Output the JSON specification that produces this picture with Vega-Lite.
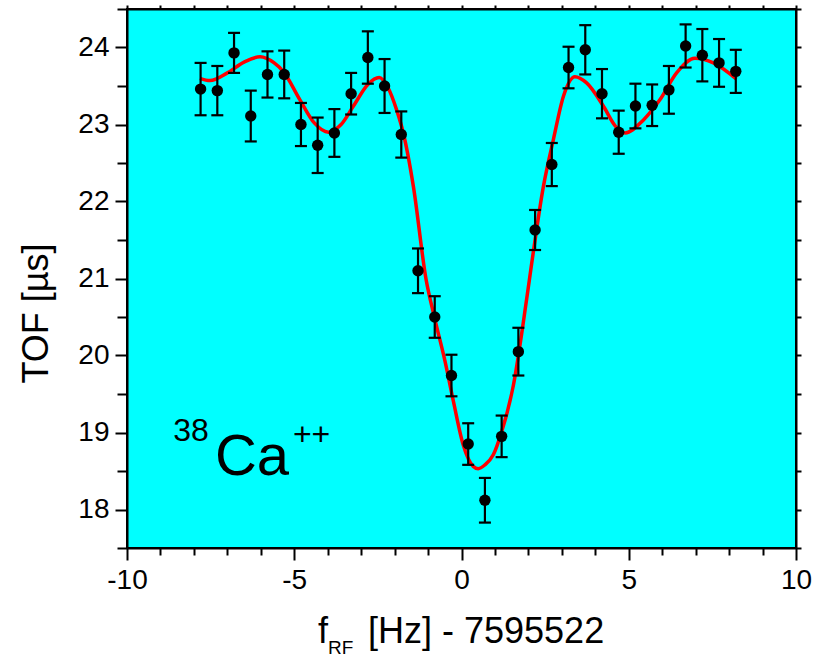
{
  "$schema": "https://vega.github.io/schema/vega-lite/v6.json",
  "width": 669,
  "height": 539,
  "autosize": {"type": "none"},
  "padding": {"left": 127, "top": 9, "right": 18, "bottom": 112},
  "background": "white",
  "config": {
    "view": {"fill": "#00FFFF", "stroke": "black", "strokeWidth": 2},
    "font": "Liberation Sans",
    "axis": {"grid": false, "domainColor": "black", "domainWidth": 2, "tickColor": "black", "tickWidth": 2, "labelColor": "black", "labelFont": "Liberation Sans", "titleFont": "Liberation Sans", "titleColor": "black", "titleFontWeight": "normal"}
  },
  "datasets": {
    "pts": [
      {"f": -7.8, "tof": 23.46, "err": 0.34},
      {"f": -7.3, "tof": 23.44, "err": 0.32},
      {"f": -6.8, "tof": 23.93, "err": 0.26},
      {"f": -6.3, "tof": 23.11, "err": 0.33},
      {"f": -5.8, "tof": 23.65, "err": 0.30},
      {"f": -5.3, "tof": 23.65, "err": 0.31},
      {"f": -4.8, "tof": 23.00, "err": 0.28},
      {"f": -4.3, "tof": 22.73, "err": 0.36},
      {"f": -3.8, "tof": 22.89, "err": 0.31},
      {"f": -3.3, "tof": 23.40, "err": 0.27},
      {"f": -2.8, "tof": 23.87, "err": 0.34},
      {"f": -2.3, "tof": 23.50, "err": 0.35},
      {"f": -1.8, "tof": 22.87, "err": 0.30},
      {"f": -1.3, "tof": 21.10, "err": 0.29},
      {"f": -0.8, "tof": 20.50, "err": 0.27},
      {"f": -0.3, "tof": 19.74, "err": 0.27},
      {"f": 0.2, "tof": 18.85, "err": 0.27},
      {"f": 0.7, "tof": 18.12, "err": 0.29},
      {"f": 1.2, "tof": 18.95, "err": 0.27},
      {"f": 1.7, "tof": 20.05, "err": 0.31},
      {"f": 2.2, "tof": 21.63, "err": 0.26},
      {"f": 2.7, "tof": 22.48, "err": 0.28},
      {"f": 3.2, "tof": 23.74, "err": 0.27},
      {"f": 3.7, "tof": 23.97, "err": 0.32},
      {"f": 4.2, "tof": 23.40, "err": 0.32},
      {"f": 4.7, "tof": 22.90, "err": 0.28},
      {"f": 5.2, "tof": 23.24, "err": 0.29},
      {"f": 5.7, "tof": 23.25, "err": 0.27},
      {"f": 6.2, "tof": 23.45, "err": 0.31},
      {"f": 6.7, "tof": 24.02, "err": 0.28},
      {"f": 7.2, "tof": 23.90, "err": 0.34},
      {"f": 7.7, "tof": 23.80, "err": 0.31},
      {"f": 8.2, "tof": 23.69, "err": 0.28}
    ],
    "fit": [
      {"f": -7.82, "tof": 23.60},
      {"f": -7.52, "tof": 23.57},
      {"f": -7.0, "tof": 23.67},
      {"f": -6.5, "tof": 23.81},
      {"f": -6.02, "tof": 23.88},
      {"f": -5.6, "tof": 23.80},
      {"f": -5.33, "tof": 23.69},
      {"f": -4.83, "tof": 23.32},
      {"f": -4.4, "tof": 23.02},
      {"f": -3.98, "tof": 22.90},
      {"f": -3.6, "tof": 23.00},
      {"f": -3.23, "tof": 23.24},
      {"f": -2.8, "tof": 23.52},
      {"f": -2.46, "tof": 23.61},
      {"f": -2.2, "tof": 23.48},
      {"f": -1.94, "tof": 23.19},
      {"f": -1.74, "tof": 22.89},
      {"f": -1.44, "tof": 22.20},
      {"f": -1.06, "tof": 20.99},
      {"f": -0.8, "tof": 20.48},
      {"f": -0.49, "tof": 19.92},
      {"f": -0.24, "tof": 19.40},
      {"f": 0.05, "tof": 18.84},
      {"f": 0.35, "tof": 18.56},
      {"f": 0.5, "tof": 18.53},
      {"f": 0.7, "tof": 18.58},
      {"f": 0.95, "tof": 18.71},
      {"f": 1.2, "tof": 19.01},
      {"f": 1.55, "tof": 19.61},
      {"f": 1.95, "tof": 20.74},
      {"f": 2.1, "tof": 21.2},
      {"f": 2.45, "tof": 22.20},
      {"f": 2.75, "tof": 22.81},
      {"f": 3.05, "tof": 23.37},
      {"f": 3.39, "tof": 23.62},
      {"f": 3.74, "tof": 23.54},
      {"f": 4.24, "tof": 23.24},
      {"f": 4.6, "tof": 22.98},
      {"f": 4.89, "tof": 22.89},
      {"f": 5.44, "tof": 23.06},
      {"f": 5.93, "tof": 23.32},
      {"f": 6.43, "tof": 23.67},
      {"f": 6.98, "tof": 23.86},
      {"f": 7.53, "tof": 23.80},
      {"f": 8.22, "tof": 23.59}
    ],
    "labels": [
      {"lx": -8.62, "ly": 18.886, "txt": "38", "kind": "sup"},
      {"lx": -7.37, "ly": 18.446, "txt": "Ca", "kind": "big"},
      {"lx": -5.04, "ly": 18.834, "txt": "++", "kind": "sup"}
    ],
    "xtitle": [
      {"lx": -4.29, "ly": 16.26, "txt": "f", "kind": "main"},
      {"lx": -2.795, "ly": 16.26, "txt": "[Hz] - 7595522", "kind": "main"},
      {"lx": -3.99, "ly": 16.12, "txt": "RF", "kind": "sub"}
    ]
  },
  "layer": [
    {
      "data": {"name": "fit"},
      "mark": {"type": "line", "color": "#FF0000", "strokeWidth": 3.5, "interpolate": "monotone"},
      "encoding": {
        "x": {"field": "f", "type": "quantitative", "scale": {"domain": [-10, 10], "nice": false, "zero": false},
          "axis": {"orient": "bottom", "title": null, "values": [-10,-9,-8,-7,-6,-5,-4,-3,-2,-1,0,1,2,3,4,5,6,7,8,9,10],
            "labelExpr": "datum.value % 5 === 0 ? '' + datum.value : ''", "labelFontSize": 28, "labelPadding": 6,
            "tickSize": {"condition": {"test": "datum.value % 5 === 0", "value": 12}, "value": 7}, "labelOverlap": false, "labelFlush": false}},
        "y": {"field": "tof", "type": "quantitative", "scale": {"domain": [17.5, 24.5], "nice": false, "zero": false},
          "axis": {"orient": "left", "title": "TOF [µs]", "titleFontSize": 36, "titlePadding": 22, "titleY": 304,
            "values": [17.5,18,18.5,19,19.5,20,20.5,21,21.5,22,22.5,23,23.5,24,24.5],
            "labelExpr": "datum.value % 1 === 0 ? '' + datum.value : ''", "labelFontSize": 28, "labelPadding": 6,
            "tickSize": {"condition": {"test": "datum.value % 1 === 0", "value": 12}, "value": 10}, "labelOverlap": false, "labelFlush": false}}
      }
    },
    {
      "data": {"name": "pts"},
      "transform": [{"calculate": "datum.tof - datum.err", "as": "lo"}, {"calculate": "datum.tof + datum.err", "as": "hi"}],
      "mark": {"type": "rule", "color": "black", "strokeWidth": 2.2},
      "encoding": {
        "x": {"field": "f", "type": "quantitative",
          "axis": {"orient": "top", "title": null, "labels": false, "values": [-10,-9,-8,-7,-6,-5,-4,-3,-2,-1,0,1,2,3,4,5,6,7,8,9,10], "tickSize": 4}},
        "y": {"field": "lo", "type": "quantitative",
          "axis": {"orient": "right", "title": null, "labels": false, "values": [17.5,18,18.5,19,19.5,20,20.5,21,21.5,22,22.5,23,23.5,24,24.5], "tickSize": 5}},
        "y2": {"field": "hi"}
      }
    },
    {
      "data": {"name": "pts"},
      "transform": [{"calculate": "datum.tof - datum.err", "as": "lo"}],
      "mark": {"type": "tick", "orient": "horizontal", "color": "black", "size": 12, "thickness": 2.2, "opacity": 1},
      "encoding": {
        "x": {"field": "f", "type": "quantitative", "axis": null},
        "y": {"field": "lo", "type": "quantitative", "axis": null}
      }
    },
    {
      "data": {"name": "pts"},
      "transform": [{"calculate": "datum.tof + datum.err", "as": "hi"}],
      "mark": {"type": "tick", "orient": "horizontal", "color": "black", "size": 12, "thickness": 2.2, "opacity": 1},
      "encoding": {
        "x": {"field": "f", "type": "quantitative", "axis": null},
        "y": {"field": "hi", "type": "quantitative", "axis": null}
      }
    },
    {
      "data": {"name": "pts"},
      "mark": {"type": "circle", "color": "black", "size": 130, "opacity": 1},
      "encoding": {
        "x": {"field": "f", "type": "quantitative", "axis": null},
        "y": {"field": "tof", "type": "quantitative", "axis": null}
      }
    },
    {
      "data": {"name": "labels"},
      "mark": {"type": "text", "align": "left", "baseline": "alphabetic", "color": "black", "font": "Liberation Sans"},
      "encoding": {
        "x": {"field": "lx", "type": "quantitative", "axis": null},
        "y": {"field": "ly", "type": "quantitative", "axis": null},
        "text": {"field": "txt"},
        "size": {"field": "kind", "type": "nominal", "scale": {"domain": ["sup", "big"], "range": [32, 58]}, "legend": null}
      }
    },
    {
      "data": {"name": "xtitle"},
      "mark": {"type": "text", "align": "left", "baseline": "alphabetic", "color": "black", "font": "Liberation Sans"},
      "encoding": {
        "x": {"field": "lx", "type": "quantitative", "axis": null},
        "y": {"field": "ly", "type": "quantitative", "axis": null},
        "text": {"field": "txt"},
        "size": {"field": "kind", "type": "nominal", "scale": {"domain": ["main", "sub"], "range": [36, 19]}, "legend": null}
      }
    }
  ],
  "resolve": {"axis": {"x": "independent", "y": "independent"}, "scale": {"size": "independent"}}
}
